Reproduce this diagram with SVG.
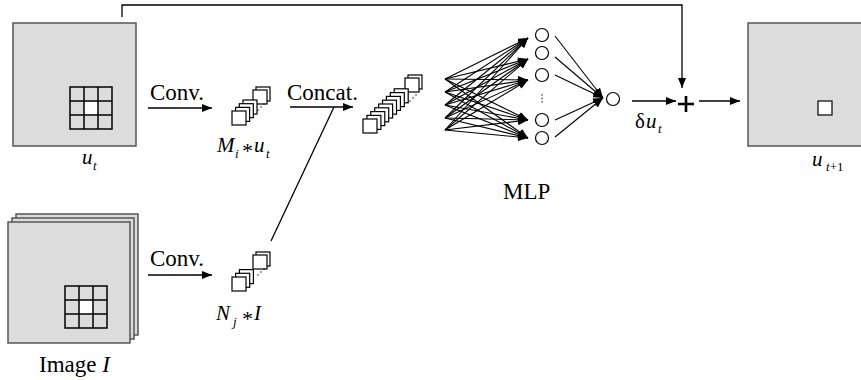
<svg xmlns="http://www.w3.org/2000/svg" width="861" height="380" viewBox="0 0 861 380">
<defs>
<style>
.box{fill:#dcdcdc;stroke:#555;stroke-width:1.5}
.grid{fill:none;stroke:#000;stroke-width:1.5}
.sq{fill:#fff;stroke:#000;stroke-width:1.2}
.ln{fill:none;stroke:#000;stroke-width:1.3}
.arr{fill:none;stroke:#000;stroke-width:1.3;marker-end:url(#ah)}
.arrs{fill:none;stroke:#000;stroke-width:1.1;marker-end:url(#ahs)}
.node{fill:#fff;stroke:#000;stroke-width:1.2}
.t{font-family:"Liberation Serif","DejaVu Serif",serif;font-size:23px;fill:#000}
.m{font-family:"Liberation Serif","DejaVu Serif",serif;font-size:21px;font-style:italic;fill:#000}
.s{font-family:"Liberation Serif","DejaVu Serif",serif;font-size:13px;font-style:italic;fill:#000}
.op{font-family:"Liberation Serif","DejaVu Serif",serif;font-size:22px;fill:#000}
.dot{fill:#000}
</style>
<marker id="ah" markerUnits="userSpaceOnUse" markerWidth="10" markerHeight="8" refX="10" refY="4" orient="auto"><path d="M0,0 L10,4 L0,8 z" fill="#000"/></marker>
<marker id="ahs" markerUnits="userSpaceOnUse" markerWidth="10" markerHeight="8" refX="10" refY="4" orient="auto"><path d="M0,0 L10,4 L0,8 z" fill="#000"/></marker>
</defs>

<g id="ut">
<rect class="box" x="13" y="23" width="123" height="123"/>
<rect x="84" y="101" width="14" height="14" fill="#fff"/>
<path class="grid" d="M70,87 H112 V129 H70 Z M84,87 V129 M98,87 V129 M70,101 H112 M70,115 H112"/>
<text class="m" x="82" y="164">u</text><text class="s" x="93" y="170">t</text>
</g>

<g id="image">
<rect class="box" x="16" y="214" width="122" height="121"/>
<rect class="box" x="12" y="218" width="122" height="121"/>
<rect class="box" x="8" y="222" width="122" height="121"/>
<rect x="79" y="300" width="14" height="14" fill="#fff"/>
<path class="grid" d="M65,286 H107 V328 H65 Z M79,286 V328 M93,286 V328 M65,300 H107 M65,314 H107"/>
<text class="t" x="39" y="372">Image <tspan font-style="italic">I</tspan></text>
</g>

<g id="stackM">
<rect class="sq" x="256" y="87" width="14" height="14"/>
<rect class="sq" x="253" y="90" width="14" height="14"/>
<circle class="dot" cx="258" cy="110" r="0.7"/><circle class="dot" cx="261" cy="107" r="0.7"/><circle class="dot" cx="264" cy="104" r="0.7"/>
<rect class="sq" x="243" y="100" width="14" height="14"/>
<rect class="sq" x="239.3" y="103.7" width="14" height="14"/>
<rect class="sq" x="235.6" y="107.4" width="14" height="14"/>
<rect class="sq" x="232" y="111" width="14" height="14"/>
<text class="m" x="217" y="152">M</text><text class="s" x="235" y="158">i</text>
<text class="op" x="242" y="158">*</text>
<text class="m" x="254" y="152">u</text><text class="s" x="266" y="158">t</text>
</g>

<g id="stackN">
<rect class="sq" x="256" y="252" width="14" height="14"/>
<rect class="sq" x="253" y="255" width="14" height="14"/>
<circle class="dot" cx="258" cy="275" r="0.7"/><circle class="dot" cx="261" cy="272" r="0.7"/><circle class="dot" cx="264" cy="269" r="0.7"/>
<rect class="sq" x="239.4" y="269.6" width="14" height="14"/>
<rect class="sq" x="235.7" y="273.3" width="14" height="14"/>
<rect class="sq" x="232" y="277" width="14" height="14"/>
<text class="m" x="216" y="320">N</text><text class="s" x="233" y="326">j</text>
<text class="op" x="242" y="326">*</text>
<text class="m" x="254" y="320">I</text>
</g>

<g id="stackC">
<rect class="sq" x="408" y="75" width="14" height="14"/>
<rect class="sq" x="405" y="78" width="14" height="14"/>
<circle class="dot" cx="410" cy="101" r="0.7"/><circle class="dot" cx="413" cy="98" r="0.7"/><circle class="dot" cx="416" cy="95" r="0.7"/>
<rect class="sq" x="394.2" y="88.8" width="14" height="14"/>
<rect class="sq" x="390.3" y="92.6" width="14" height="14"/>
<rect class="sq" x="386.4" y="96.4" width="14" height="14"/>
<rect class="sq" x="382.5" y="100.2" width="14" height="14"/>
<rect class="sq" x="378.6" y="104" width="14" height="14"/>
<rect class="sq" x="374.7" y="107.8" width="14" height="14"/>
<rect class="sq" x="370.8" y="111.6" width="14" height="14"/>
<rect class="sq" x="366.9" y="115.4" width="14" height="14"/>
<rect class="sq" x="363" y="119" width="14" height="14"/>
</g>

<g id="mlp">
<circle class="node" cx="542" cy="35" r="6.5"/>
<circle class="node" cx="542" cy="53" r="6.5"/>
<circle class="node" cx="542" cy="75" r="6.5"/>
<circle class="node" cx="542" cy="120" r="6.5"/>
<circle class="node" cx="542" cy="138" r="6.5"/>
<circle class="dot" cx="542" cy="95" r="0.7"/><circle class="dot" cx="542" cy="98.5" r="0.7"/><circle class="dot" cx="542" cy="102" r="0.7"/>
<circle class="node" cx="613" cy="99" r="6.5"/>
<text class="t" x="503" y="199">MLP</text>
</g>

<g id="ut1">
<rect class="box" x="748" y="23" width="123" height="123"/>
<rect class="sq" x="818" y="101" width="14" height="14" stroke-width="1.3"/>
<text class="m" x="812" y="166" font-size="23">u</text><text class="s" x="826" y="171">t<tspan font-style="normal">+1</tspan></text>
</g>

<g id="plus">
<path d="M678,104 H694 M686,96 V112" stroke="#000" stroke-width="2.6" fill="none"/>
</g>

<g id="connectors">
<path class="arr" d="M148,108 H212"/>
<text class="t" x="150" y="100">Conv.</text>
<path class="arr" d="M148,275 H212"/>
<text class="t" x="150" y="266">Conv.</text>
<path class="arr" d="M290,107 H353"/>
<text class="t" x="287" y="100">Concat.</text>
<path class="ln" d="M271,241 L334,107"/>
<path class="arr" d="M122,17 V5 H682 V88"/>
<path class="arr" d="M632,101 H676"/>
<text class="m" x="635" y="128"><tspan font-style="normal">δ</tspan></text><text class="m" x="646" y="128">u</text><text class="s" x="658" y="133">t</text>
<path class="arr" d="M699,101 H740"/>
<g>
<path class="arrs" d="M445,79 L528,38"/><path class="arrs" d="M445,79 L528,59"/><path class="arrs" d="M445,79 L528,80"/><path class="arrs" d="M445,79 L528,120"/><path class="arrs" d="M445,79 L528,138"/>
<path class="arrs" d="M445,92 L528,38"/><path class="arrs" d="M445,92 L528,59"/><path class="arrs" d="M445,92 L528,80"/><path class="arrs" d="M445,92 L528,120"/><path class="arrs" d="M445,92 L528,138"/>
<path class="arrs" d="M445,105 L528,38"/><path class="arrs" d="M445,105 L528,59"/><path class="arrs" d="M445,105 L528,80"/><path class="arrs" d="M445,105 L528,120"/><path class="arrs" d="M445,105 L528,138"/>
<path class="arrs" d="M445,118 L528,38"/><path class="arrs" d="M445,118 L528,59"/><path class="arrs" d="M445,118 L528,80"/><path class="arrs" d="M445,118 L528,120"/><path class="arrs" d="M445,118 L528,138"/>
<path class="arrs" d="M445,130 L528,38"/><path class="arrs" d="M445,130 L528,59"/><path class="arrs" d="M445,130 L528,80"/><path class="arrs" d="M445,130 L528,120"/><path class="arrs" d="M445,130 L528,138"/>
</g>
<g>
<path class="arrs" d="M555,36 L603,98"/><path class="arrs" d="M555,57 L603,98"/><path class="arrs" d="M555,75 L603,98"/><path class="arrs" d="M555,120 L603,98"/><path class="arrs" d="M555,137 L603,98"/>
</g>
</g>
</svg>
